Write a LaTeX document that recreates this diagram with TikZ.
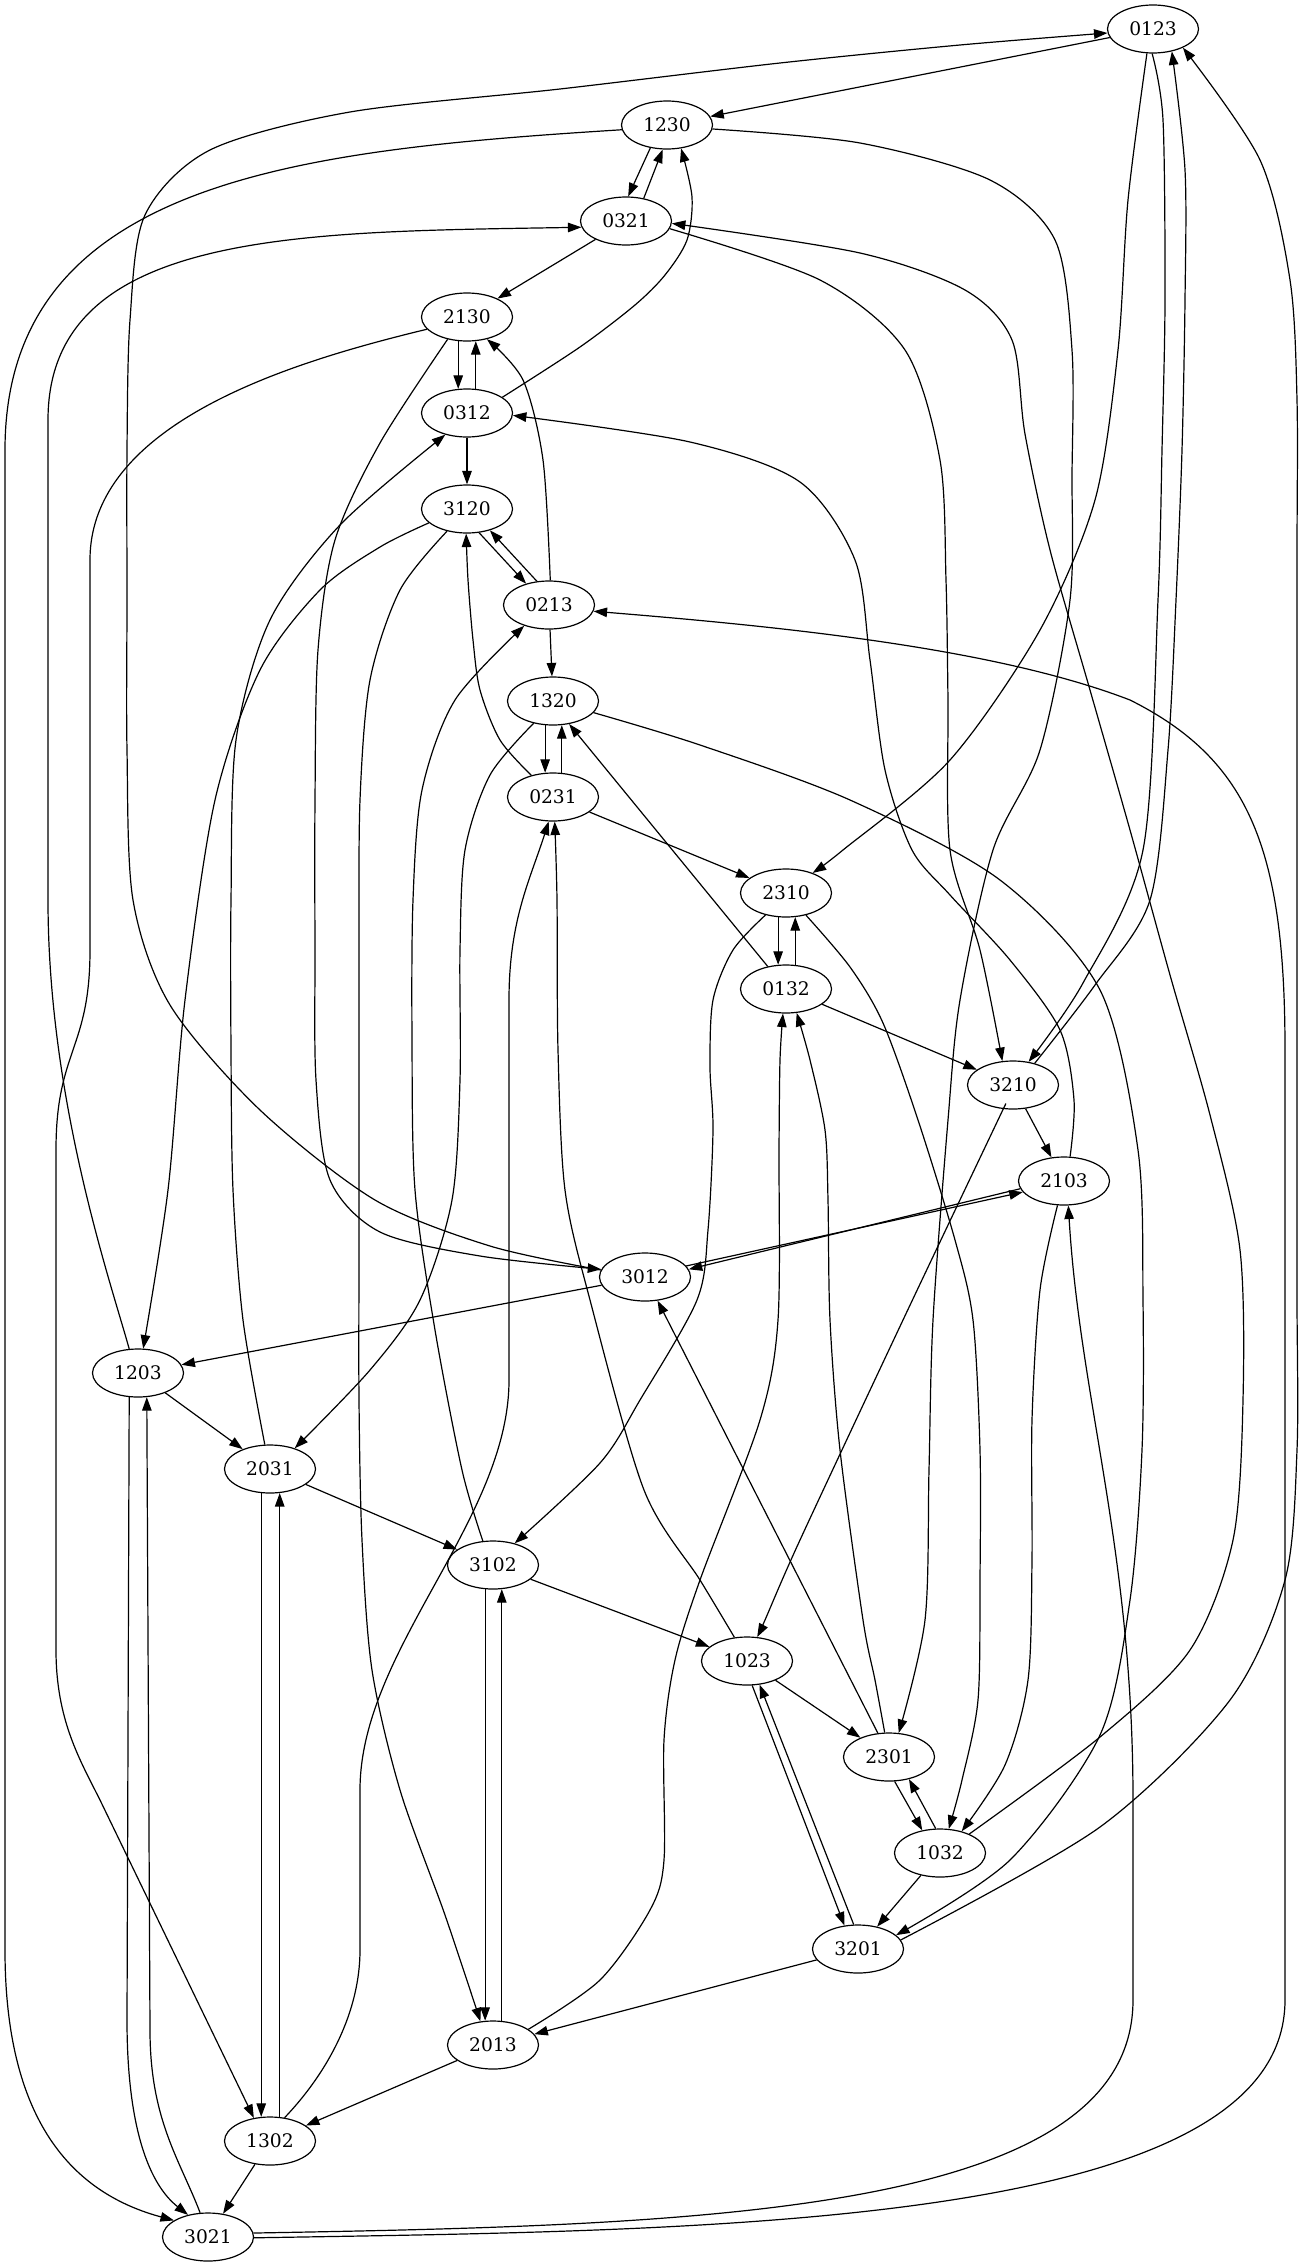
\documentclass[tikz,border=0pt]{standalone}
\usepackage{fontspec}
\setmainfont{DejaVu Serif}
\usetikzlibrary{arrows.meta,shapes.geometric}
\begin{document}
\begin{tikzpicture}[x=1pt,y=-1pt,
  st/.style={draw, ellipse, minimum width=91pt, minimum height=48pt, inner sep=0pt, line width=1.2pt, font=\fontsize{18.67}{22}\selectfont},
  lnk/.style={line width=1.2pt, -{Triangle[length=13.5pt,width=9.5pt]}}]
\useasboundingbox (0,0) rectangle (1304,2267);
\node[st] (v0123) at (1153,29) {0123};
\node[st] (v1230) at (667,125) {1230};
\node[st] (v0321) at (626,221) {0321};
\node[st] (v2130) at (467,317) {2130};
\node[st] (v0312) at (467,413) {0312};
\node[st] (v3120) at (467,509) {3120};
\node[st] (v0213) at (549,605) {0213};
\node[st] (v1320) at (553,701) {1320};
\node[st] (v0231) at (553,797) {0231};
\node[st] (v2310) at (786,893) {2310};
\node[st] (v0132) at (786,989) {0132};
\node[st] (v3210) at (1013,1085) {3210};
\node[st] (v2103) at (1064,1181) {2103};
\node[st] (v3012) at (645,1277) {3012};
\node[st] (v1203) at (138,1373) {1203};
\node[st] (v2031) at (270,1469) {2031};
\node[st] (v3102) at (493,1565) {3102};
\node[st] (v1023) at (747,1661) {1023};
\node[st] (v2301) at (889,1757) {2301};
\node[st] (v1032) at (940,1853) {1032};
\node[st] (v3201) at (858,1949) {3201};
\node[st] (v2013) at (493,2045) {2013};
\node[st] (v1302) at (270,2141) {1302};
\node[st] (v3021) at (208,2237) {3021};
% straight edges
\draw[lnk] (v0123) -- (v1230);
\draw[lnk] (v0321) -- (v2130);
\draw[lnk] (v0312) -- (v3120);
\draw[lnk] (v0213) -- (v1320);
\draw[lnk] (v0231) -- (v2310);
\draw[lnk] (v0132) -- (v3210);
\draw[lnk] (v3210) -- (v2103);
\draw[lnk] (v3012) -- (v1203);
\draw[lnk] (v1203) -- (v2031);
\draw[lnk] (v2031) -- (v3102);
\draw[lnk] (v3102) -- (v1023);
\draw[lnk] (v1023) -- (v2301);
\draw[lnk] (v1032) -- (v3201);
\draw[lnk] (v3201) -- (v2013);
\draw[lnk] (v2013) -- (v1302);
\draw[lnk] (v1302) -- (v3021);
\draw[lnk] (v0132.129) -- (v1320.-55);
\draw[lnk] (v2301.115) -- (v3012.-62);
% pairs
\draw[lnk] (v1230.-126) -- (v0321.85);
\draw[lnk] (v0321.52) -- (v1230.-100);
\draw[lnk] (v2130.-110) -- (v0312.110);
\draw[lnk] (v0312.70) -- (v2130.-70);
\draw[lnk] (v3120.-63) -- (v0213.137);
\draw[lnk] (v0213.117) -- (v3120.-43);
\draw[lnk] (v1320.-108) -- (v0231.108);
\draw[lnk] (v0231.70) -- (v1320.-70);
\draw[lnk] (v2310.-108) -- (v0132.108);
\draw[lnk] (v0132.69) -- (v2310.-69);
\draw[lnk] (v3012.15) -- (v2103.195);
\draw[lnk] (v2103.190) -- (v3012.10);
\draw[lnk] (v2031.-110) -- (v1302.110);
\draw[lnk] (v1302.68) -- (v2031.-68);
\draw[lnk] (v3102.-108) -- (v2013.108);
\draw[lnk] (v2013.70) -- (v3102.-70);
\draw[lnk] (v1023.-78) -- (v3201.120);
\draw[lnk] (v3201.100) -- (v1023.-62);
\draw[lnk] (v2301.-77) -- (v1032.128);
\draw[lnk] (v1032.100) -- (v2301.-48);
% curved edges
\draw[lnk] plot[smooth] coordinates {(v3012.171) (490,1246) (375,1200) (260,1110) (170,1005) (133,900) (127,750) (127,600) (127,450) (130,320) (145,215) (210,150) (350,112) (560,89) (780,63) (960,45) (v0123.185)};
\draw[lnk] plot[smooth] coordinates {(v0123.-104) (1128,200) (1118,350) (1095,500) (1040,630) (950,760) (843,850) (v2310.37)};
\draw[lnk] plot[smooth] coordinates {(v0123.-92) (1163,120) (1165,300) (1162,450) (1158,600) (1143,850) (1083,983) (v3210.56)};
\draw[lnk] plot[smooth] coordinates {(v3210.45) (1095,985) (1150,900) (1168,750) (1176,600) (1182,450) (1185,300) (1185,170) (v0123.-50)};
\draw[lnk] plot[smooth] coordinates {(v3201.12) (1100,1827) (1230,1700) (1285,1580) (1297,1450) (1297,1300) (1297,1150) (1297,1000) (1297,850) (1297,700) (1297,550) (1297,400) (1290,280) (1260,160) (v0123.-32)};
\draw[lnk] (v1230.186) .. controls (300,150) and (5,180) .. (5,450) -- (5,1950) .. controls (5,2130) and (80,2195) .. (v3021.154);
\draw[lnk] plot[smooth] coordinates {(v1230.-5) (860,143) (990,180) (1055,240) (1072,350) (1072,475) (1070,600) (1040,750) (993,850) (960,1000) (948,1120) (933,1320) (929,1470) (925,1620) (v2301.68)};
\draw[lnk] plot[smooth] coordinates {(v0321.-10) (820,280) (905,350) (940,460) (946,580) (948,700) (950,850) (980,950) (v3210.114)};
\draw[lnk] plot[smooth] coordinates {(v1032.33) (1100,1737) (1190,1650) (1233,1540) (1243,1400) (1240,1250) (1210,1115) (1170,975) (1130,830) (1090,690) (1050,550) (1025,434) (1012,340) (965,290) (860,253) (v0321.-3)};
\draw[lnk] (v1203.110) .. controls (110,1280) and (48,1100) .. (48,900) -- (48,420) .. controls (48,230) and (300,232) .. (v0321.188);
\draw[lnk] (v2130.-163) .. controls (300,360) and (90,420) .. (90,560) -- (90,950) .. controls (90,1050) and (56,1050) .. (56,1150) -- (56,1650) .. controls (56,1720) and (80,1760) .. (100,1800) -- (v1302.125);
\draw[lnk] plot[smooth] coordinates {(v2130.-131) (380,443) (335,540) (318,650) (315,800) (315,950) (316,1080) (330,1180) (380,1232) (480,1256) (v3012.170)};
\draw[lnk] plot[smooth] coordinates {(v0312.24) (580,347) (635,305) (665,275) (687,240) (692,197) (v1230.-59)};
\draw[lnk] plot[smooth] coordinates {(v2103.76) (1074,1100) (1060,1030) (1010,960) (950,895) (912,850) (885,770) (870,660) (855,560) (800,482) (690,442) (v0312.-3)};
\draw[lnk] plot[smooth] coordinates {(v2031.102) (243,1320) (233,1190) (231,1050) (231,900) (236,740) (270,620) (340,525) (v0312.-135)};
\draw[lnk] plot[smooth] coordinates {(v3120.-160) (380,547) (320,590) (260,670) (215,800) (185,1000) (168,1190) (v1203.78)};
\draw[lnk] plot[smooth] coordinates {(v3120.-132) (400,590) (370,680) (360,800) (359,950) (359,1100) (359,1250) (359,1400) (362,1540) (372,1670) (400,1790) (445,1915) (v2013.118)};
\draw[lnk] plot[smooth] coordinates {(v0213.87) (543,460) (523,380) (v2130.-48)};
\draw[lnk] (v3021.-1) .. controls (700,2230) and (1285,2230) .. (1285,2000) -- (1285,1050) .. controls (1285,850) and (1250,760) .. (1130,700) .. controls (1000,650) and (800,628) .. (v0213.-8);
\draw[lnk] (v3021.5) .. controls (700,2225) and (1133,2215) .. (1133,2000) -- (1133,1800) .. controls (1133,1550) and (1080,1400) .. (v2103.-80);
\draw[lnk] plot[smooth] coordinates {(v3102.113) (462,1470) (435,1330) (415,1190) (412,1040) (413,900) (422,790) (455,700) (v0213.-140)};
\draw[lnk] plot[smooth] coordinates {(v0231.135) (500,740) (480,690) (473,640) (468,580) (v3120.-92)};
\draw[lnk] plot[smooth] coordinates {(v1320.-131) (490,775) (465,850) (460,950) (460,1080) (452,1200) (420,1300) (370,1370) (v2031.40)};
\draw[lnk] plot[smooth] coordinates {(v1320.-16) (700,745) (850,800) (1000,880) (1100,990) (1138,1150) (1143,1300) (1142,1450) (1130,1600) (1100,1735) (1010,1860) (v3201.20)};
\draw[lnk] plot[smooth] coordinates {(v1023.118) (700,1580) (644,1490) (590,1300) (565,1190) (558,1050) (557,900) (v0231.-86)};
\draw[lnk] plot[smooth] coordinates {(v2310.-133) (733,950) (713,1000) (710,1067) (713,1130) (708,1230) (697,1300) (640,1400) (600,1463) (v3102.45)};
\draw[lnk] plot[smooth] coordinates {(v2310.-48) (850,967) (883,1023) (918,1120) (955,1240) (973,1320) (980,1450) (980,1580) (978,1700) (962,1780) (v1032.70)};
\draw[lnk] plot[smooth] coordinates {(v2103.-105) (1040,1290) (1032,1420) (1032,1560) (1028,1680) (1005,1765) (v1032.45)};
\draw[lnk] plot[smooth] coordinates {(v2013.24) (600,1980) (650,1910) (664,1860) (664,1740) (675,1660) (700,1580) (760,1420) (778,1320) (779,1150) (780,1060) (v0132.-97)};
\draw[lnk] plot[smooth] coordinates {(v2301.100) (875,1680) (863,1620) (840,1450) (830,1320) (828,1200) (825,1130) (810,1060) (v0132.-66)};
\draw[lnk] plot[smooth] coordinates {(v3210.-112) (998,1120) (903,1320) (800,1540) (765,1620) (v1023.67)};
\draw[lnk] (v1203.-110) -- (127,2020) .. controls (127,2130) and (150,2185) .. (v3021.132);
\draw[lnk] (v3021.108) .. controls (180,2160) and (150,2120) .. (150,2030) -- (v1203.-70);
\draw[lnk] (v1302.58) .. controls (330,2070) and (360,2010) .. (360,1950) -- (360,1790) .. controls (360,1650) and (509,1520) .. (509,1380) -- (509,1000) .. controls (509,920) and (530,880) .. (v0231.-100);
\end{tikzpicture}
\end{document}
